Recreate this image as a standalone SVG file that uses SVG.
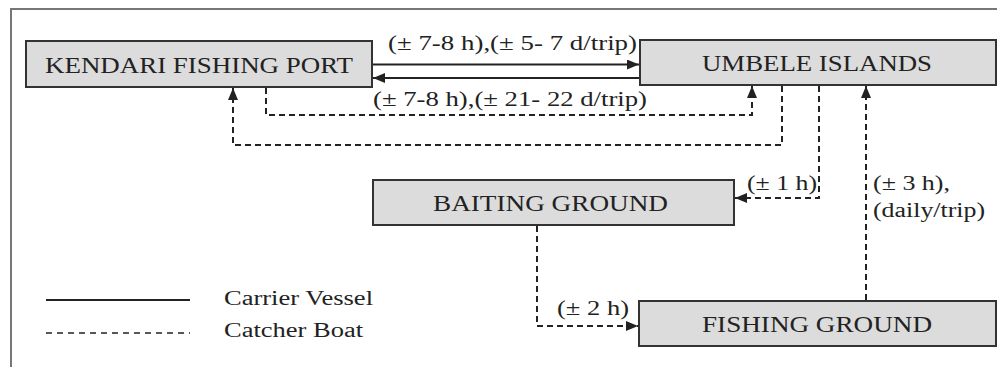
<svg xmlns="http://www.w3.org/2000/svg" width="997" height="367" viewBox="0 0 997 367">
<style>
.box{fill:#dcdcdc;stroke:#333;stroke-width:2}
.lbl{font-family:"Liberation Serif","Times New Roman",serif;fill:#222}
.node{font-size:24px}
.edge{font-size:20px}
.solid{fill:none;stroke:#222;stroke-width:2}
.dash{fill:none;stroke:#222;stroke-width:2;stroke-dasharray:6,4}
</style>
<defs>
<marker id="ah" viewBox="0 0 12 10" refX="12" refY="5" markerWidth="12" markerHeight="10" markerUnits="userSpaceOnUse" orient="auto">
<path d="M0,0 L12,5 L0,10 Z" fill="#222"/>
</marker>
</defs>
<rect width="997" height="367" fill="#fff"/>
<path d="M11,367 V9 H997" fill="none" stroke="#777" stroke-width="2"/>

<g id="kendari">
<rect class="box" x="26" y="41" width="346" height="46"/>
<text class="lbl node" x="45" y="73" textLength="308" lengthAdjust="spacingAndGlyphs">KENDARI FISHING PORT</text>
</g>
<g id="umbele">
<rect class="box" x="640" y="40" width="356" height="45"/>
<text class="lbl node" x="702" y="71" textLength="230" lengthAdjust="spacingAndGlyphs">UMBELE ISLANDS</text>
</g>
<g id="baiting">
<rect class="box" x="373" y="180" width="361" height="45"/>
<text class="lbl node" x="433" y="211" textLength="235" lengthAdjust="spacingAndGlyphs">BAITING GROUND</text>
</g>
<g id="fishing">
<rect class="box" x="639" y="301" width="357" height="45"/>
<text class="lbl node" x="702" y="332" textLength="230" lengthAdjust="spacingAndGlyphs">FISHING GROUND</text>
</g>

<g id="connectors">
<path class="solid" d="M373,64.5 H639" marker-end="url(#ah)"/>
<path class="solid" d="M639,78 H373" marker-end="url(#ah)"/>
<path class="dash" d="M266,88 V115 H752 V86" marker-end="url(#ah)"/>
<path class="dash" d="M782,86 V145 H233 V88" marker-end="url(#ah)"/>
<path class="dash" d="M819,86 V198 H735" marker-end="url(#ah)"/>
<path class="dash" d="M866,300 V86" marker-end="url(#ah)"/>
<path class="dash" d="M537,226 V326 H638" marker-end="url(#ah)"/>
<text class="lbl edge" x="388" y="50" textLength="249" lengthAdjust="spacingAndGlyphs">(± 7-8 h),(± 5- 7 d/trip)</text>
<text class="lbl edge" x="373" y="106" textLength="274" lengthAdjust="spacingAndGlyphs">(± 7-8 h),(± 21- 22 d/trip)</text>
<text class="lbl edge" x="747" y="190" textLength="70" lengthAdjust="spacingAndGlyphs">(± 1 h)</text>
<text class="lbl edge" x="873" y="190" textLength="77" lengthAdjust="spacingAndGlyphs">(± 3 h),</text>
<text class="lbl edge" x="873" y="217" textLength="112" lengthAdjust="spacingAndGlyphs">(daily/trip)</text>
<text class="lbl edge" x="557" y="315" textLength="72" lengthAdjust="spacingAndGlyphs">(± 2 h)</text>
</g>

<g id="legend">
<line class="solid" x1="46" y1="300" x2="190" y2="300"/>
<line x1="46" y1="333" x2="190" y2="333" stroke="#222" stroke-width="1.5" stroke-dasharray="6,5"/>
<text class="lbl edge" x="224" y="305" textLength="149" lengthAdjust="spacingAndGlyphs">Carrier Vessel</text>
<text class="lbl edge" x="224" y="337" textLength="139" lengthAdjust="spacingAndGlyphs">Catcher Boat</text>
</g>
</svg>
